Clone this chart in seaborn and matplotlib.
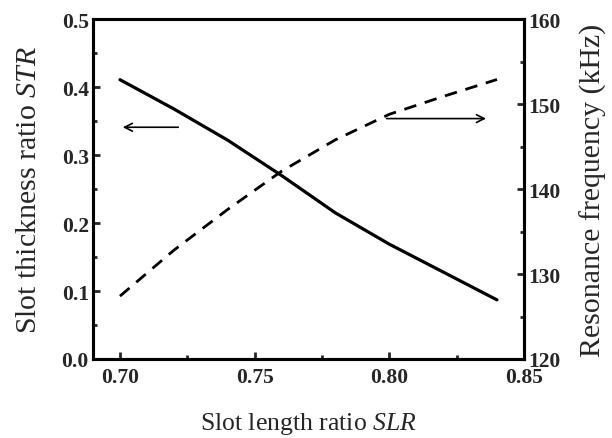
import matplotlib
matplotlib.use("Agg")
import matplotlib.pyplot as plt
import seaborn as sns
import pandas as pd
from matplotlib.ticker import MultipleLocator, FormatStrFormatter

slr = [0.70, 0.72, 0.74, 0.76, 0.78, 0.80, 0.82, 0.84]
str_ratio = [0.411, 0.368, 0.322, 0.270, 0.215, 0.169, 0.128, 0.087]
res_freq = [127.4, 132.8, 137.6, 142.1, 145.8, 148.8, 150.9, 152.9]

sns.set_style("ticks")
plt.rcParams['font.family'] = ['Liberation Serif', 'DejaVu Serif']
plt.rcParams['mathtext.fontset'] = 'custom'
plt.rcParams['mathtext.rm'] = 'Liberation Serif'
plt.rcParams['mathtext.it'] = 'Liberation Serif:italic'

df = pd.DataFrame({"SLR": slr, "STR": str_ratio, "F": res_freq})

fig = plt.figure(figsize=(6.12, 4.39), dpi=100)
ax = fig.add_axes([0.152, 0.180, 0.704, 0.774])
ax2 = ax.twinx()

sns.lineplot(data=df, x="SLR", y="STR", ax=ax, color="black", linewidth=2.3)
sns.lineplot(data=df, x="SLR", y="F", ax=ax2, color="black", linewidth=2.0,
             linestyle=(0, (4.5, 3.2)))

ax.set_xlim(0.69, 0.85)
ax.set_ylim(0.0, 0.5)
ax2.set_ylim(120, 160)

ax.xaxis.set_major_locator(MultipleLocator(0.05))
ax.xaxis.set_minor_locator(MultipleLocator(0.025))
ax.yaxis.set_major_locator(MultipleLocator(0.1))
ax.yaxis.set_minor_locator(MultipleLocator(0.05))
ax2.yaxis.set_major_locator(MultipleLocator(10))
ax2.yaxis.set_minor_locator(MultipleLocator(5))
ax.xaxis.set_major_formatter(FormatStrFormatter('%.2f'))
ax.yaxis.set_major_formatter(FormatStrFormatter('%.1f'))
ax2.yaxis.set_major_formatter(FormatStrFormatter('%d'))

for a in (ax, ax2):
    for s in a.spines.values():
        s.set_linewidth(2.2)
        s.set_color("black")
    a.tick_params(which='major', direction='in', length=5, width=2, labelsize=15.5, pad=3)
    a.tick_params(which='minor', direction='in', length=3, width=2)
    for lab in a.get_xticklabels() + a.get_yticklabels():
        lab.set_fontweight('bold')
ax.tick_params(axis='x', top=False, which='both', pad=6)
ax.tick_params(axis='y', right=False, which='both')
ax2.tick_params(axis='y', left=False, which='both')

ax.set_xlabel(r"Slot length ratio $\mathit{SLR}$", fontsize=18.5, labelpad=16)
ax.set_ylabel(r"Slot thickness ratio $\mathit{STR}$", fontsize=21.5, labelpad=14)
ax2.set_ylabel("Resonance frequency (kHz)", fontsize=21.5, labelpad=14)

ax.annotate("", xy=(0.700, 0.341), xytext=(0.7227, 0.341),
            arrowprops=dict(arrowstyle="->", color="black", lw=1.2, mutation_scale=14))
ax2.annotate("", xy=(0.837, 148.3), xytext=(0.798, 148.3),
             arrowprops=dict(arrowstyle="->", color="black", lw=1.2, mutation_scale=14))

fig.savefig("out.png", dpi=100)
